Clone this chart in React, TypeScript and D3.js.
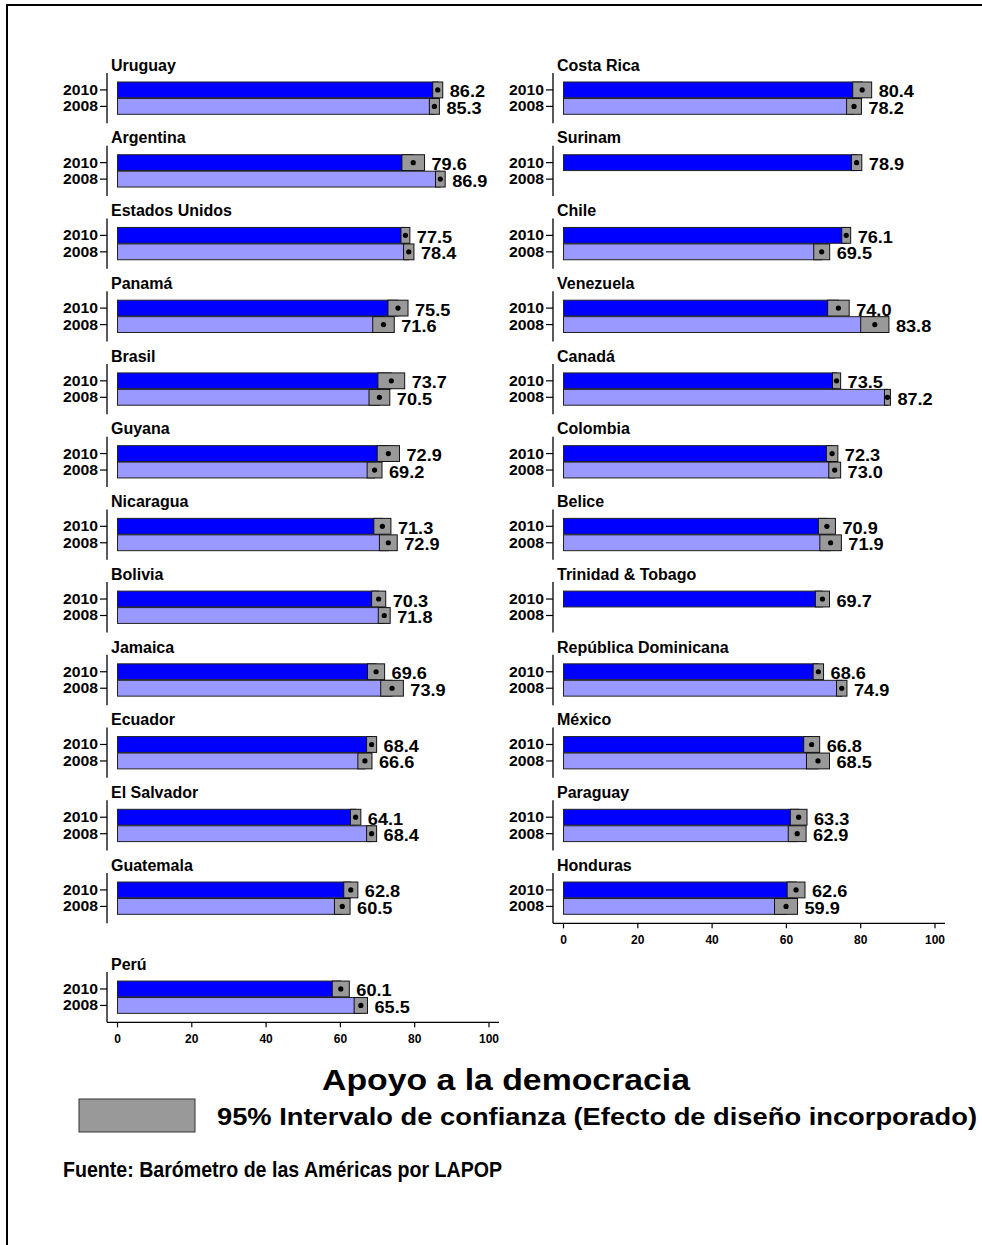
import React from "react";
import * as d3 from "d3";

// Countries sorted by 2010 value, laid out row-major in two columns
const countries = [
  "Uruguay", "Costa Rica", "Argentina", "Surinam", "Estados Unidos", "Chile",
  "Panamá", "Venezuela", "Brasil", "Canadá", "Guyana", "Colombia",
  "Nicaragua", "Belice", "Bolivia", "Trinidad & Tobago", "Jamaica",
  "República Dominicana", "Ecuador", "México", "El Salvador", "Paraguay",
  "Guatemala", "Honduras", "Perú",
];
const values2010 = [
  86.2, 80.4, 79.6, 78.9, 77.5, 76.1, 75.5, 74.0, 73.7, 73.5, 72.9, 72.3,
  71.3, 70.9, 70.3, 69.7, 69.6, 68.6, 68.4, 66.8, 64.1, 63.3, 62.8, 62.6, 60.1,
];
const values2008: (number | null)[] = [
  85.3, 78.2, 86.9, null, 78.4, 69.5, 71.6, 83.8, 70.5, 87.2, 69.2, 73.0,
  72.9, 71.9, 71.8, null, 73.9, 74.9, 66.6, 68.5, 68.4, 62.9, 60.5, 59.9, 65.5,
];
// half-widths of 95% confidence intervals
const ci2010 = [
  1.35, 2.55, 3.05, 1.4, 1.2, 1.2, 2.7, 2.9, 3.6, 1.1, 3.0, 1.55,
  2.3, 2.3, 1.9, 1.9, 2.3, 1.4, 1.35, 2.15, 1.4, 2.25, 1.9, 2.4, 2.3,
];
const ci2008: (number | null)[] = [
  1.35, 2.0, 1.3, null, 1.4, 2.15, 2.9, 3.8, 2.8, 0.8, 2.0, 1.6,
  2.4, 2.9, 1.6, null, 3.05, 1.4, 1.9, 3.1, 1.35, 2.4, 2.1, 3.1, 1.8,
];
const years = ["2010", "2008"];
const yearColors = ["#0000ff", "#9999ff"];
const xTicks = [0, 20, 40, 60, 80, 100];

const FONT = "'Liberation Sans', Arial, Helvetica, sans-serif";

const W = 982;
const H = 1245;
const colAxisX = [107, 553];
const rowStep = 72.73;
const firstTitleY = 70.7;
const VAL_FS = 16.5;

function Panel({ i }: { i: number }) {
  const col = i % 2;
  const row = Math.floor(i / 2);
  const isLast = i === countries.length - 1 || i === countries.length - 2;
  const titleY = firstTitleY + row * rowStep + (row === 12 ? 26.3 : 0);
  const axisX = colAxisX[col];
  const x = d3.scaleLinear().domain([0, 100]).range([axisX + 10.5, axisX + 382]);
  const y = d3
    .scaleBand<string>()
    .domain(years)
    .range([titleY + 11.3, titleY + 43.6])
    .paddingInner(0.04);
  const bw = y.bandwidth();
  const axisY = titleY + 52.6;
  const vals = [values2010[i], values2008[i]];
  const cis = [ci2010[i], ci2008[i]];
  return (
    <g>
      <text x={axisX + 4} y={titleY} fontSize={16} fontWeight="bold" fontFamily={FONT} fill="#000">
        {countries[i]}
      </text>
      <line x1={axisX} x2={axisX} y1={titleY + 2.3} y2={axisY} stroke="#000" strokeWidth={1.3} />
      {years.map((yr) => {
        const cy = (y(yr) as number) + bw / 2;
        return (
          <g key={yr}>
            <line x1={axisX - 7} x2={axisX} y1={cy} y2={cy} stroke="#000" strokeWidth={1.2} />
            <text
              x={axisX - 9}
              y={cy}
              textAnchor="end"
              dominantBaseline="central"
              fontSize={14.5}
              fontWeight="bold"
              fontFamily={FONT}
              textLength={35}
              lengthAdjust="spacingAndGlyphs"
            >
              {yr}
            </text>
          </g>
        );
      })}
      {years.map((yr, k) => {
        const v = vals[k];
        const c = cis[k];
        if (v == null || c == null) return null;
        const top = y(yr) as number;
        const cy = top + bw / 2;
        const label = v.toFixed(1);
        const em = (label.length - 1) * 0.556 + 0.278;
        return (
          <g key={"b" + yr}>
            <rect
              x={x(0)}
              y={top}
              width={x(v) - x(0)}
              height={bw}
              fill={yearColors[k]}
              stroke="#222"
              strokeWidth={1}
            />
            <rect
              x={x(v - c)}
              y={top}
              width={x(v + c) - x(v - c)}
              height={bw}
              fill="#999999"
              stroke="#111"
              strokeWidth={1}
            />
            <circle cx={x(v)} cy={cy} r={2.6} fill="#000" />
            <text
              x={x(v + c) + 7}
              y={cy + 1.5}
              dominantBaseline="central"
              fontSize={VAL_FS}
              fontWeight="bold"
              fontFamily={FONT}
              textLength={em * VAL_FS * 1.1}
              lengthAdjust="spacingAndGlyphs"
            >
              {label}
            </text>
          </g>
        );
      })}
      {isLast && (
        <g>
          <line x1={axisX} x2={x(100) + 10} y1={axisY} y2={axisY} stroke="#000" strokeWidth={1.3} />
          {xTicks.map((t) => (
            <g key={t}>
              <line x1={x(t)} x2={x(t)} y1={axisY} y2={axisY + 5} stroke="#000" strokeWidth={1.2} />
              <text
                x={x(t)}
                y={axisY + 17}
                textAnchor="middle"
                dominantBaseline="central"
                fontSize={12}
                fontWeight="bold"
                fontFamily={FONT}
              >
                {t}
              </text>
            </g>
          ))}
        </g>
      )}
    </g>
  );
}

export default function App() {
  return (
    <div style={{ position: "absolute", left: 0, top: 0 }}>
      <svg width={W} height={H} style={{ display: "block", background: "#fff" }}>
        <rect x={0} y={0} width={W} height={H} fill="#fff" />
        <path d={`M7,${H} L7,5 L${W},5`} fill="none" stroke="#000" strokeWidth={2} />
        {countries.map((_, i) => (
          <Panel key={i} i={i} />
        ))}
        <text
          x={506}
          y={1090}
          textAnchor="middle"
          fontSize={30}
          fontWeight="bold"
          fontFamily={FONT}
          textLength={368}
          lengthAdjust="spacingAndGlyphs"
        >
          Apoyo a la democracia
        </text>
        <rect x={79} y={1099} width={116} height={33} fill="#999999" stroke="#333" strokeWidth={1} />
        <text
          x={217}
          y={1125}
          fontSize={24}
          fontWeight="bold"
          fontFamily={FONT}
          textLength={760}
          lengthAdjust="spacingAndGlyphs"
        >
          95% Intervalo de confianza (Efecto de diseño incorporado)
        </text>
        <text
          x={63}
          y={1177}
          fontSize={22}
          fontWeight="bold"
          fontFamily={FONT}
          textLength={439}
          lengthAdjust="spacingAndGlyphs"
        >
          Fuente: Barómetro de las Américas por LAPOP
        </text>
      </svg>
    </div>
  );
}
